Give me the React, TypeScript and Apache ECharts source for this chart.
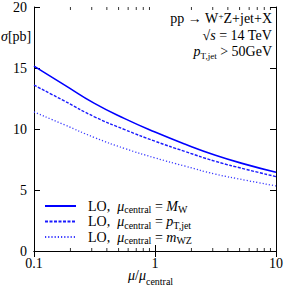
import React, { useEffect, useRef } from "react";
import * as echarts from "echarts";

const muValues = [0.1, 0.178, 0.316, 0.562, 1, 1.78, 3.16, 5.62, 10];
const sigmaMW = [15.15, 13.62, 12.1, 10.85, 9.75, 8.75, 7.85, 7.1, 6.45];
const sigmaPT = [13.6, 12.3, 11.0, 9.95, 9.0, 8.15, 7.35, 6.7, 6.1];
const sigmaMWZ = [11.4, 10.35, 9.3, 8.4, 7.63, 6.95, 6.3, 5.8, 5.33];
const minorTicks = [0.2, 0.3, 0.4, 0.5, 0.6, 0.7, 0.8, 0.9, 2, 3, 4, 5, 6, 7, 8, 9];
const yTicks = [0, 5, 10, 15, 20];
const seriesNames = ["MW", "PT", "MWZ"];

const FONT = "Liberation Serif";

export default function App() {
  const ref = useRef<HTMLDivElement>(null);
  useEffect(() => {
    if (!ref.current) return;
    const chart = echarts.init(ref.current, null, { renderer: "svg" });
    const pair = (arr: number[]) => muValues.map((m, i) => [m, arr[i]]);
    const axisCommon = {
      axisLine: { show: true, lineStyle: { color: "#000", width: 1 } },
      splitLine: { show: false },
    };
    const sub = { fontFamily: FONT, fontSize: 10, color: "#000", verticalAlign: "bottom", lineHeight: 12, padding: [0, 0, -2.5, 0] };
    const it = { fontFamily: FONT, fontSize: 14, fontStyle: "italic", color: "#000", lineHeight: 12 };
    const rm = { fontFamily: FONT, fontSize: 14, color: "#000", lineHeight: 12 };
    const legendLabels: Record<string, string> = {
      MW: "{rm|LO,  }{it|μ}{sub|central}{rm| = }{it|M}{sub|W}",
      PT: "{rm|LO,  }{it|μ}{sub|central}{rm| = }{it|p}{sub|T,jet}",
      MWZ: "{rm|LO,  }{it|μ}{sub|central}{rm| = }{it|m}{sub|WZ}",
    };
    const lineSeries = (name: string, arr: number[], color: string, width: number, type: any) => ({
      name,
      type: "line",
      data: pair(arr),
      smooth: 0.5,
      symbol: "none",
      showSymbol: false,
      lineStyle: { color, width, type },
      itemStyle: { color },
    });
    chart.setOption({
      animation: false,
      grid: { left: 34, right: 9, top: 6, bottom: 37, containLabel: false },
      xAxis: [
        {
          type: "log",
          logBase: 10,
          min: 0.1,
          max: 10,
          position: "bottom",
          ...axisCommon,
          axisTick: { show: true, inside: true, length: 6, lineStyle: { color: "#000" } },
          axisLabel: {
            show: true,
            fontFamily: FONT,
            fontSize: 14,
            color: "#000",
            margin: 5,
            formatter: (v: number) => String(v),
          },
        },
        {
          type: "log",
          logBase: 10,
          min: 0.1,
          max: 10,
          position: "top",
          ...axisCommon,
          axisTick: { show: true, inside: true, length: 6, lineStyle: { color: "#000" } },
          axisLabel: { show: false },
        },
      ],
      yAxis: [
        {
          type: "value",
          min: 0,
          max: 20,
          interval: 5,
          position: "left",
          ...axisCommon,
          axisTick: { show: true, inside: true, length: 6, lineStyle: { color: "#000" } },
          axisLabel: { show: true, fontFamily: FONT, fontSize: 14, color: "#000", margin: 7 },
        },
        {
          type: "value",
          min: 0,
          max: 20,
          interval: 5,
          position: "right",
          ...axisCommon,
          axisTick: { show: true, inside: true, length: 6, lineStyle: { color: "#000" } },
          axisLabel: { show: false },
        },
      ],
      legend: {
        data: seriesNames,
        orient: "vertical",
        left: 44,
        top: 199,
        itemWidth: 31,
        itemHeight: 10,
        itemGap: 0,
        padding: 0,
        itemStyle: { opacity: 0 },
        formatter: (name: string) => legendLabels[name],
        textStyle: { fontFamily: FONT, fontSize: 14, color: "#000", padding: [0, 0, 0, 7], rich: { rm, it, sub } },
      },
      graphic: [
        {
          type: "text",
          left: 1,
          top: 29,
          style: {
            text: "{it|σ}{rm|[pb]}",
            rich: {
              it: { fontFamily: FONT, fontSize: 14, fontStyle: "italic", fill: "#000" },
              rm: { fontFamily: FONT, fontSize: 14, fill: "#000" },
            },
          },
        },
        {
          type: "text",
          right: 14,
          top: 11,
          style: {
            text: "{rm|pp → W}{sup|+}{rm|Z+jet+X}",
            align: "right",
            rich: {
              rm: { fontFamily: FONT, fontSize: 14, fill: "#000" },
              sup: { fontFamily: FONT, fontSize: 9, fill: "#000", verticalAlign: "top", lineHeight: 15 },
            },
          },
        },
        {
          type: "text",
          right: 14,
          top: 28,
          style: {
            text: "{rm|√}{it|s}{rm| = 14 TeV}",
            rich: {
              rm: { fontFamily: FONT, fontSize: 14, fill: "#000" },
              it: { fontFamily: FONT, fontSize: 14, fontStyle: "italic", fill: "#000" },
            },
          },
        },
        {
          type: "text",
          right: 14,
          top: 44,
          style: {
            text: "{it|p}{sub|T,jet}{rm| > 50GeV}",
            rich: {
              rm: { fontFamily: FONT, fontSize: 14, fill: "#000", lineHeight: 15 },
              it: { fontFamily: FONT, fontSize: 14, fontStyle: "italic", fill: "#000", lineHeight: 15 },
              sub: { fontFamily: FONT, fontSize: 9, fill: "#000", verticalAlign: "bottom", lineHeight: 15, padding: [0, 0, -2, 0] },
            },
          },
        },
        {
          type: "text",
          left: 128,
          top: 268,
          style: {
            text: "{it|μ}{rm|/}{it|μ}{sub|central}",
            rich: {
              rm: { fontFamily: FONT, fontSize: 14, fill: "#000", lineHeight: 16 },
              it: { fontFamily: FONT, fontSize: 14, fontStyle: "italic", fill: "#000", lineHeight: 16 },
              sub: { fontFamily: FONT, fontSize: 10, fill: "#000", verticalAlign: "bottom", lineHeight: 16, padding: [0, 0, -3, 0] },
            },
          },
        },
      ],
      series: [
        lineSeries("MW", sigmaMW, "#0000ff", 1.6, "solid"),
        lineSeries("PT", sigmaPT, "#1a1aff", 1.4, [3, 1.5]),
        lineSeries("MWZ", sigmaMWZ, "#3a3aff", 1.3, [1.2, 2]),
        {
          name: "minorBottom",
          type: "scatter",
          data: minorTicks.map((m) => [m, yTicks[0]]),
          symbol: "rect",
          symbolSize: [1, 3],
          symbolOffset: [0, -1.5],
          itemStyle: { color: "#000" },
          silent: true,
          clip: false,
        },
        {
          name: "minorTop",
          type: "scatter",
          data: minorTicks.map((m) => [m, yTicks[yTicks.length - 1]]),
          symbol: "rect",
          symbolSize: [1, 3],
          symbolOffset: [0, 1.5],
          itemStyle: { color: "#000" },
          silent: true,
          clip: false,
        },
      ],
    });
    return () => chart.dispose();
  }, []);
  return <div ref={ref} style={{ width: 286, height: 288, position: "absolute", left: 0, top: 0 }} />;
}
